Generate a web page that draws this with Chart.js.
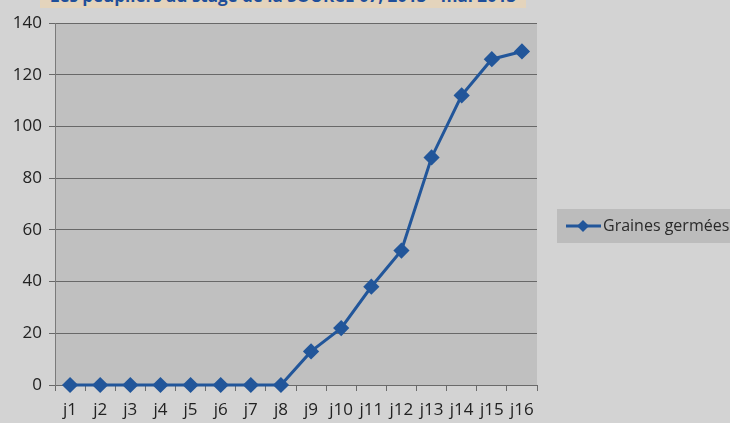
<!DOCTYPE html>
<html>
<head>
<meta charset="utf-8">
<script src="https://cdn.jsdelivr.net/npm/chart.js@4/dist/chart.umd.min.js"></script>
<style>
  html, body { margin: 0; padding: 0; background: #d3d3d3; overflow: hidden; }
  #wrap { position: relative; width: 730px; height: 423px; }
  #title {
    position: absolute; left: 40px; top: -14px; width: 486px; height: 22px;
    background: #e4d4bc; color: #1f4f9a; font: bold 17px "Open Sans", sans-serif;
    text-align: center; line-height: 20px; white-space: nowrap; overflow: hidden;
  }
  canvas { position: absolute; left: 0; top: 0; }
</style>
</head>
<body>
<div id="wrap">
  <canvas id="c" width="730" height="423"></canvas>
  <div id="title">Les peupliers au stage de la SOURCE 07, 2013 - mai 2013</div>
</div>
<script>
const categories = ["j1","j2","j3","j4","j5","j6","j7","j8","j9","j10","j11","j12","j13","j14","j15","j16"];
const grainesGermees = [0,0,0,0,0,0,0,0,13,22,38,52,88,112,126,129];
const seriesName = "Graines germées";
const yTicks = [0,20,40,60,80,100,120,140];

const LINE = "#22569a";

const bgPlugin = {
  id: "bg",
  beforeDraw(chart) {
    const {ctx, chartArea: a} = chart;
    ctx.save();
    ctx.fillStyle = "#c0c0c0";
    ctx.fillRect(a.left, a.top, a.right - a.left, a.bottom - a.top);
    ctx.restore();
  },
  afterDraw(chart) {
    const ctx = chart.ctx;
    ctx.save();
    ctx.fillStyle = "#bcbcbc";
    ctx.fillRect(557, 209, 173, 34);
    ctx.strokeStyle = LINE; ctx.lineWidth = 3;
    ctx.beginPath(); ctx.moveTo(566, 226); ctx.lineTo(601, 226); ctx.stroke();
    ctx.fillStyle = LINE;
    ctx.beginPath(); ctx.moveTo(583, 220); ctx.lineTo(589, 226); ctx.lineTo(583, 232); ctx.lineTo(577, 226); ctx.closePath(); ctx.fill();
    ctx.fillStyle = "#2a2a2a";
    ctx.font = "16px 'Open Sans', sans-serif";
    ctx.textBaseline = "middle";
    ctx.fillText(seriesName, 603, 226);
    ctx.restore();
  }
};

new Chart(document.getElementById("c"), {
  type: "line",
  data: {
    labels: categories,
    datasets: [{
      label: seriesName,
      data: grainesGermees,
      borderColor: LINE,
      backgroundColor: LINE,
      borderWidth: 3,
      pointStyle: "rectRot",
      pointRadius: 6,
      pointHoverRadius: 6,
      tension: 0,
      clip: false
    }]
  },
  options: {
    responsive: false,
    animation: false,
    devicePixelRatio: 1,
    layout: { padding: { top: 23, right: 193, left: 0, bottom: 0 } },
    plugins: { legend: { display: false }, tooltip: { enabled: false } },
    scales: {
      x: {
        offset: true,
        grid: { display: true, drawOnChartArea: false, offset: true, color: "#6a6a6a", tickLength: 6 },
        border: { display: true, color: "#6a6a6a", width: 1 },
        ticks: { color: "#222", font: { size: 17, family: "'Open Sans', sans-serif" }, padding: 9, maxRotation: 0, autoSkip: false },
        afterFit(s) { s.height = 38; }
      },
      y: {
        min: 0, max: 140,
        afterBuildTicks(s) { s.ticks = yTicks.map(v => ({ value: v })); },
        grid: { color: "#686868", tickLength: 6 },
        border: { display: true, color: "#7a7a7a", width: 1 },
        ticks: { color: "#222", font: { size: 17, family: "'Open Sans', sans-serif" }, padding: 7 },
        afterFit(s) { s.width = 55; }
      }
    }
  },
  plugins: [bgPlugin]
});
</script>
</body>
</html>
